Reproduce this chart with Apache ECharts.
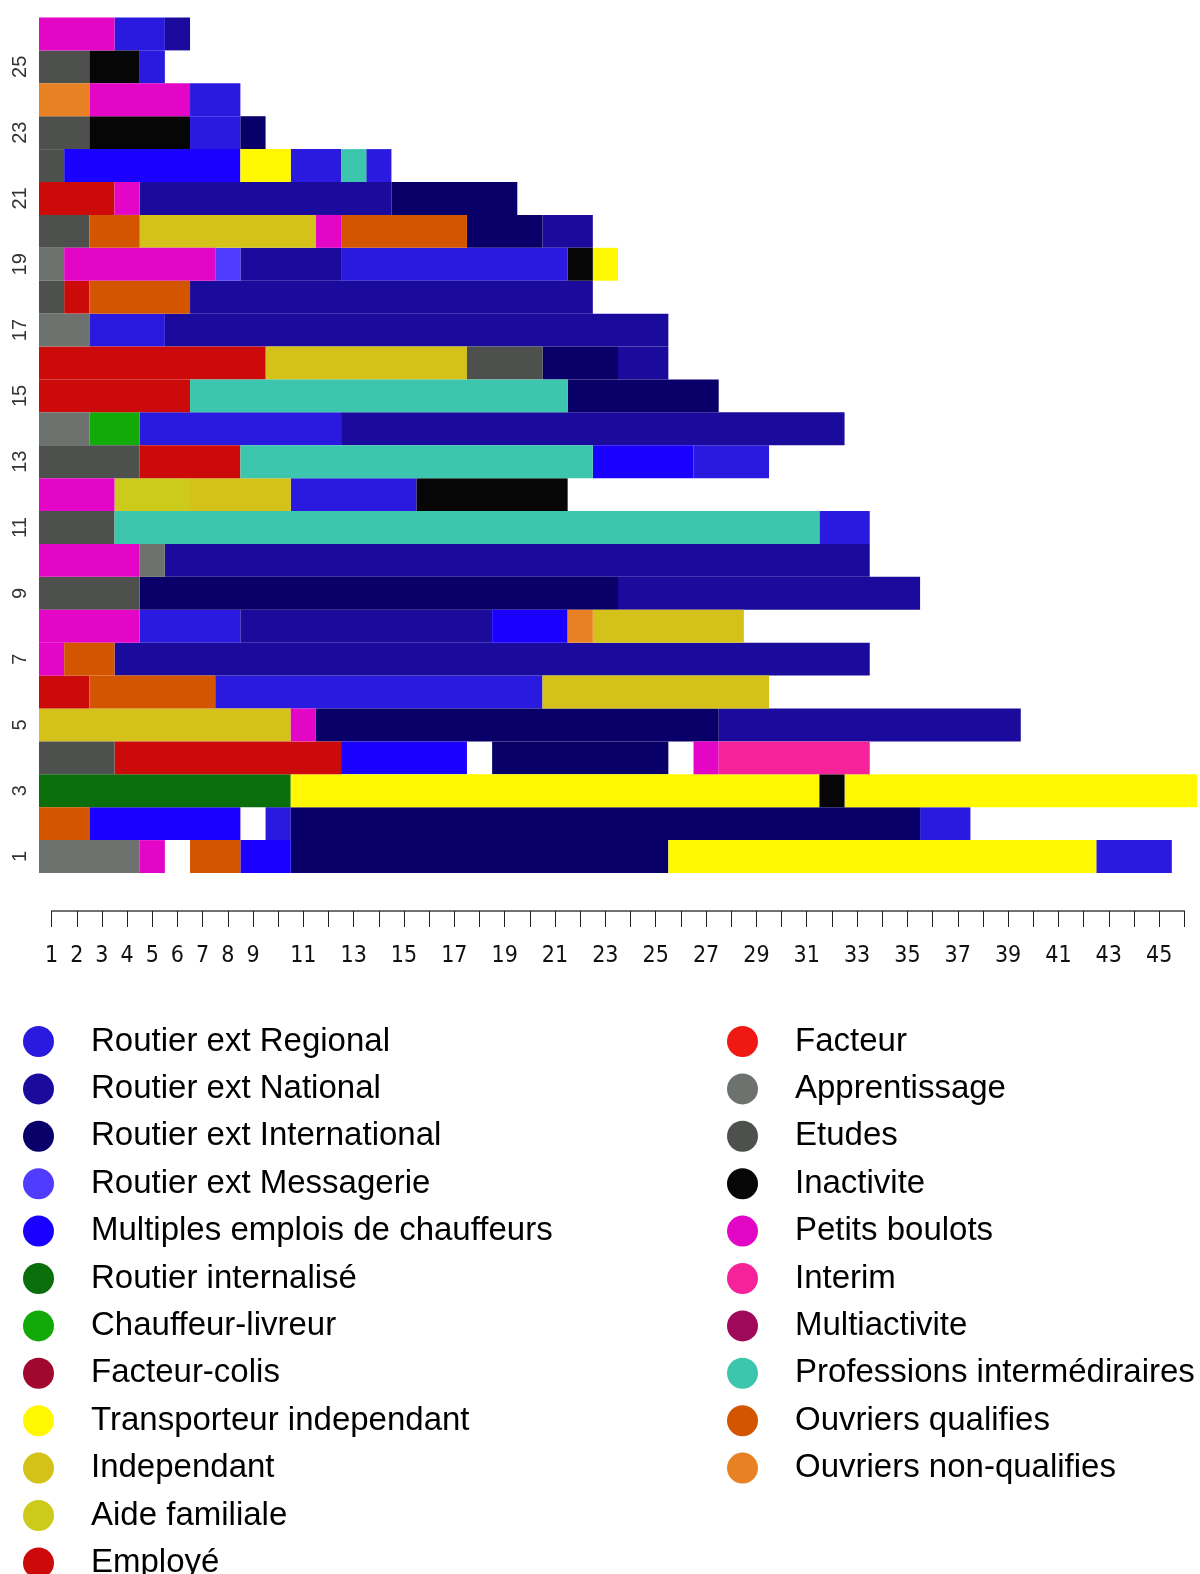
<!DOCTYPE html>
<html>
<head>
<meta charset="utf-8">
<script src="https://cdn.jsdelivr.net/npm/echarts@6/dist/echarts.min.js"></script>
<style>
  html, body { margin: 0; padding: 0; background: #fff; }
  #main { width: 1200px; height: 1574px; }
</style>
</head>
<body>
<div id="main"></div>
<script>
// states (legend order) + short codes used in the sequences
var states = ['Routier ext Regional', 'Routier ext National', 'Routier ext International',
  'Routier ext Messagerie', 'Multiples emplois de chauffeurs', 'Routier internalisé',
  'Chauffeur-livreur', 'Facteur-colis', 'Transporteur independant', 'Independant',
  'Aide familiale', 'Employé', 'Facteur', 'Apprentissage', 'Etudes', 'Inactivite',
  'Petits boulots', 'Interim', 'Multiactivite', 'Professions intermédiraires',
  'Ouvriers qualifies', 'Ouvriers non-qualifies']
var codes = ['REG', 'NAT', 'INT', 'MES', 'MUL', 'RIN', 'CLV', 'FCO', 'TRI', 'IND', 'AFA',
  'EMP', 'FAC', 'APP', 'ETU', 'INA', 'PBO', 'ITR', 'MAC', 'PRI', 'OQ', 'ONQ']
var colors = ['#2a1adf', '#1b0b9c', '#080068', '#503cff', '#1a00ff', '#0a6e0a',
  '#12aa08', '#a0082e', '#fff800', '#d4c21a', '#cccb1c', '#cc0a0a', '#f01812',
  '#6e726e', '#4d504d', '#060606', '#e406c6', '#f5229a', '#a0085a', '#3cc6ad',
  '#d45500', '#e88024']

// each sequence: [state code, number of periods], '-' = missing
var seq1 = [['APP', 4], ['PBO', 1], ['-', 1], ['OQ', 2], ['MUL', 2], ['INT', 15], ['TRI', 17], ['REG', 3]]
var seq2 = [['OQ', 2], ['MUL', 6], ['-', 1], ['REG', 1], ['INT', 25], ['REG', 2]]
var seq3 = [['RIN', 10], ['TRI', 21], ['INA', 1], ['TRI', 14]]
var seq4 = [['ETU', 3], ['EMP', 9], ['MUL', 5], ['-', 1], ['INT', 7], ['-', 1], ['PBO', 1], ['ITR', 6]]
var seq5 = [['IND', 10], ['PBO', 1], ['INT', 16], ['NAT', 12]]
var seq6 = [['EMP', 2], ['OQ', 5], ['REG', 13], ['IND', 9]]
var seq7 = [['PBO', 1], ['OQ', 2], ['NAT', 30]]
var seq8 = [['PBO', 4], ['REG', 4], ['NAT', 10], ['MUL', 3], ['ONQ', 1], ['IND', 6]]
var seq9 = [['ETU', 4], ['INT', 19], ['NAT', 12]]
var seq10 = [['PBO', 4], ['APP', 1], ['NAT', 28]]
var seq11 = [['ETU', 3], ['PRI', 28], ['REG', 2]]
var seq12 = [['PBO', 3], ['AFA', 3], ['IND', 4], ['REG', 5], ['INA', 6]]
var seq13 = [['ETU', 4], ['EMP', 4], ['PRI', 14], ['MUL', 4], ['REG', 3]]
var seq14 = [['APP', 2], ['CLV', 2], ['REG', 8], ['NAT', 20]]
var seq15 = [['EMP', 6], ['PRI', 15], ['INT', 6]]
var seq16 = [['EMP', 9], ['IND', 8], ['ETU', 3], ['INT', 3], ['NAT', 2]]
var seq17 = [['APP', 2], ['REG', 3], ['NAT', 20]]
var seq18 = [['ETU', 1], ['EMP', 1], ['OQ', 4], ['NAT', 16]]
var seq19 = [['APP', 1], ['PBO', 6], ['MES', 1], ['NAT', 4], ['REG', 9], ['INA', 1], ['TRI', 1]]
var seq20 = [['ETU', 2], ['OQ', 2], ['IND', 7], ['PBO', 1], ['OQ', 5], ['INT', 3], ['NAT', 2]]
var seq21 = [['EMP', 3], ['PBO', 1], ['NAT', 10], ['INT', 5]]
var seq22 = [['ETU', 1], ['MUL', 7], ['TRI', 2], ['REG', 2], ['PRI', 1], ['REG', 1]]
var seq23 = [['ETU', 2], ['INA', 4], ['REG', 2], ['INT', 1]]
var seq24 = [['ONQ', 2], ['PBO', 4], ['REG', 2]]
var seq25 = [['ETU', 2], ['INA', 2], ['REG', 1]]
var seq26 = [['PBO', 3], ['REG', 2], ['NAT', 1]]

var sequences = [seq1, seq2, seq3, seq4, seq5, seq6, seq7, seq8, seq9, seq10, seq11, seq12, seq13,
  seq14, seq15, seq16, seq17, seq18, seq19, seq20, seq21, seq22, seq23, seq24, seq25, seq26]
var rowLabels = sequences.map(function (s, i) { return String(i + 1) })
var xTickLabels = ['1', '2', '3', '4', '5', '6', '7', '8', '9', '11', '13', '15', '17', '19', '21',
  '23', '25', '27', '29', '31', '33', '35', '37', '39', '41', '43', '45']

// turn runs into [start, end, row] intervals per state
var dataByState = codes.map(function () { return [] })
sequences.forEach(function (seq, r) {
  var pos = 1
  seq.forEach(function (run) {
    var k = codes.indexOf(run[0])
    if (k >= 0) dataByState[k].push([pos - 0.5, pos + run[1] - 0.5, r])
    pos += run[1]
  })
})

function renderRun(params, api) {
  var p0 = api.coord([api.value(0), api.value(2)])
  var p1 = api.coord([api.value(1), api.value(2)])
  var h = api.size([0, 1])[1]
  return {
    type: 'rect',
    shape: { x: p0[0], y: p0[1] - h / 2, width: p1[0] - p0[0], height: h },
    style: { fill: api.visual('color') }
  }
}

var series = states.map(function (name, k) {
  return {
    type: 'custom',
    name: name,
    xAxisIndex: 0,
    yAxisIndex: 0,
    renderItem: renderRun,
    encode: { x: [0, 1], y: 2 },
    itemStyle: { color: colors[k] },
    data: dataByState[k]
  }
})

var legendText = {
  fontFamily: '"Liberation Sans", Arial, sans-serif', fontSize: 33, lineHeight: 32,
  color: '#000', padding: [0, 0, 0, 32]
}

var myChart = echarts.init(document.getElementById('main'), null, { renderer: 'canvas' })
var option = {
  backgroundColor: '#fff',
  animation: false,
  grid: [
    { left: 39, top: 17.5, width: 1158, height: 855.5 },
    { left: 51.6, top: 910, width: 1132.7, height: 1 }
  ],
  xAxis: [
    { gridIndex: 0, type: 'value', min: 0.5, max: 46.5, show: false },
    {
      gridIndex: 1, type: 'value', min: 1, max: 46, interval: 1,
      axisLine: { show: true, lineStyle: { color: '#444', width: 1.5 } },
      axisTick: { show: true, length: 16, lineStyle: { color: '#222' } },
      splitLine: { show: false },
      axisLabel: {
        margin: 34,
        fontFamily: '"Liberation Sans Narrow", "DejaVu Sans Condensed", sans-serif',
        fontSize: 23, color: '#111',
        showMinLabel: true, showMaxLabel: true,
        formatter: function (v) { return xTickLabels.indexOf(String(v)) >= 0 ? String(v) : '' }
      }
    }
  ],
  yAxis: [
    {
      gridIndex: 0, type: 'category', data: rowLabels,
      axisLine: { show: false }, axisTick: { show: false }, splitLine: { show: false },
      axisLabel: {
        interval: 1, rotate: 90, margin: 9, align: 'center', verticalAlign: 'bottom',
        fontFamily: '"Liberation Sans", Arial, sans-serif', fontSize: 20, color: '#333'
      }
    },
    { gridIndex: 1, type: 'value', show: false }
  ],
  legend: [
    {
      orient: 'vertical', left: 23, top: 1025, height: 570, padding: 0,
      icon: 'circle', itemWidth: 31, itemHeight: 32, itemGap: 14.4,
      data: states.slice(0, 12), textStyle: legendText
    },
    {
      orient: 'vertical', left: 727, top: 1025, height: 570, padding: 0,
      icon: 'circle', itemWidth: 31, itemHeight: 32, itemGap: 14.4,
      data: states.slice(12), textStyle: legendText
    }
  ],
  series: series
}

myChart.setOption(option)
</script>
</body>
</html>
